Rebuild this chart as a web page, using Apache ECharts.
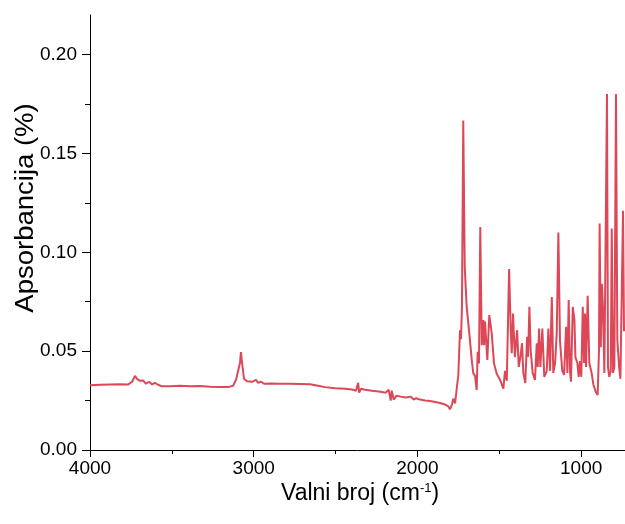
<!DOCTYPE html>
<html>
<head>
<meta charset="utf-8">
<script src="https://cdn.jsdelivr.net/npm/echarts@6/dist/echarts.min.js"></script>
<style>html,body{margin:0;padding:0;background:#fff}#c{width:625px;height:524px}</style>
</head>
<body>
<div id="c"></div>
<script>
// Wavenumbers (cm^-1) and absorbance values
const wavenumbers = [
4000,3939,3878,3817,3768,3743,3725,3713,3695,3676,3658,3640,3621,3603,3585,3560,3511,3450,3389,3328,3267,3206,3157,3126,3108,3096,3084,3078,3071,3059,3041,3010,2986,2974,2955,2937,2900,2839,2778,2717,2656,2607,2564,2503,2442,2399,2375,2362,2356,2344,2320,2277,2225,2194,2176,2163,2157,2145,2127,2102,2072,2041,2023,2008,1984,1953,1923,1892,1862,1831,1813,1801,1789,1781,1770,1756,1750,1740,1734,1728,1720,1711,1699,1683,1668,1659,1648,1638,1632,1624,1616,1607,1597,1593,1587,1573,1561,1546,1532,1516,1495,1475,1465,1454,1440,1430,1424,1416,1405,1391,1381,1371,1361,1353,1341,1330,1324,1316,1308,1296,1282,1271,1265,1257,1249,1237,1225,1210,1200,1190,1179,1170,1159,1149,1139,1129,1115,1104,1092,1084,1076,1068,1062,1051,1041,1035,1023,1015,1007,999,990,982,976,970,960,950,936,925,911,899,891,887,880,873,866,858,850,842,836,828,819,813,805,797,787,779,768,760,750,744,738
];
const absorbance = [
0.0328,0.0330,0.0331,0.0332,0.0331,0.0345,0.0375,0.0360,0.0350,0.0352,0.0335,0.0345,0.0332,0.0340,0.0330,0.0322,0.0322,0.0325,0.0322,0.0324,0.0320,0.0318,0.0318,0.0325,0.0355,0.0345,0.0440,0.0495,0.0440,0.0360,0.0348,0.0345,0.0355,0.0340,0.0345,0.0335,0.0336,0.0335,0.0335,0.0334,0.0333,0.0325,0.0318,0.0312,0.0310,0.0306,0.0300,0.0340,0.0290,0.0310,0.0305,0.0300,0.0295,0.0290,0.0305,0.0250,0.0300,0.0255,0.0275,0.0270,0.0265,0.0270,0.0255,0.0262,0.0255,0.0250,0.0248,0.0243,0.0238,0.0230,0.0222,0.0206,0.0230,0.0260,0.0236,0.0338,0.0379,0.0606,0.0560,0.0720,0.1667,0.0926,0.0724,0.0590,0.0455,0.0389,0.0375,0.0303,0.0497,0.0438,0.1128,0.0530,0.0657,0.0530,0.0650,0.0455,0.0682,0.0590,0.0438,0.0387,0.0354,0.0310,0.0400,0.0350,0.0915,0.0606,0.0490,0.0690,0.0470,0.0606,0.0420,0.0470,0.0540,0.0389,0.0338,0.0572,0.0470,0.0724,0.0500,0.0390,0.0354,0.0540,0.0420,0.0614,0.0420,0.0614,0.0370,0.0400,0.0614,0.0400,0.0774,0.0390,0.0440,0.0590,0.1100,0.0550,0.0400,0.0380,0.0623,0.0390,0.0758,0.0400,0.0345,0.0724,0.0660,0.0470,0.0440,0.0370,0.0450,0.0370,0.0724,0.0440,0.0690,0.0420,0.0780,0.0440,0.0390,0.0330,0.0295,0.0278,0.0500,0.1145,0.0520,0.0840,0.0710,0.0390,0.0400,0.1800,0.0420,0.0370,0.0400,0.1120,0.0390,0.0420,0.1800,0.0560,0.0420,0.0360,0.0350,0.1210,0.0600
];
const xTickValues = [4000, 3000, 2000, 1000];
const xMinorTickValues = [3500, 2500, 1500];
const yTickValues = [0, 0.05, 0.10, 0.15, 0.20];
const yMinorTickValues = [0.025, 0.075, 0.125, 0.175];
const xRange = [732, 4000];
const yRange = [0, 0.22];
const xTitle = 'Valni broj (cm{sup|-1})';
const yTitle = 'Apsorbancija (%)';

const FONT = '"Liberation Sans", Arial, sans-serif';
const chart = echarts.init(document.getElementById('c'), null, {renderer: 'canvas'});
const seriesData = wavenumbers.map((w, i) => [w, absorbance[i]]);
const gridBox = {left: 90, top: 15, bottom: 74, right: 0, containLabel: false};

chart.setOption({
  animation: false,
  backgroundColor: '#fff',
  grid: [Object.assign({}, gridBox), Object.assign({}, gridBox)],
  xAxis: [{
    gridIndex: 0, type: 'value', min: xRange[0], max: xRange[1], inverse: true,
    axisLine: {show: true, lineStyle: {color: '#000', width: 1}},
    axisTick: {show: true, length: 7, inside: false, customValues: xTickValues, lineStyle: {color: '#000', width: 1}},
    axisLabel: {color: '#000', fontSize: 19, fontFamily: FONT, margin: 9,
      customValues: xTickValues, formatter: v => String(v)},
    splitLine: {show: false}
  }, {
    gridIndex: 1, type: 'value', min: xRange[0], max: xRange[1], inverse: true,
    axisLine: {show: false},
    axisTick: {show: true, length: 4, customValues: xMinorTickValues, lineStyle: {color: '#000', width: 1}},
    axisLabel: {show: false},
    splitLine: {show: false}
  }],
  yAxis: [{
    gridIndex: 0, type: 'value', min: yRange[0], max: yRange[1],
    axisLine: {show: true, lineStyle: {color: '#000', width: 1}},
    axisTick: {show: true, length: 8, customValues: yTickValues, lineStyle: {color: '#000', width: 1}},
    axisLabel: {color: '#000', fontSize: 19, fontFamily: FONT, margin: 13,
      customValues: yTickValues, formatter: v => v.toFixed(2)},
    splitLine: {show: false}
  }, {
    gridIndex: 1, type: 'value', min: yRange[0], max: yRange[1], position: 'left',
    axisLine: {show: false},
    axisTick: {show: true, length: 5, customValues: yMinorTickValues, lineStyle: {color: '#000', width: 1}},
    axisLabel: {show: false},
    splitLine: {show: false}
  }],
  series: [{
    type: 'line', data: seriesData, xAxisIndex: 0, yAxisIndex: 0,
    showSymbol: false, symbol: 'none',
    lineStyle: {color: '#dc4857', width: 2},
    itemStyle: {color: '#dc4857'}
  }],
  graphic: [{
    type: 'text', left: 281, top: 482,
    style: {text: xTitle, fill: '#000', font: '23px ' + FONT,
      rich: {sup: {fontSize: 13, verticalAlign: 'top', fill: '#000', fontFamily: FONT, padding: [0, 0, 8, 0]}}}
  }, {
    type: 'text', x: 26, y: 208, rotation: Math.PI / 2, scaleX: 1.1,
    style: {text: yTitle, fill: '#000', font: '25px ' + FONT, align: 'center', verticalAlign: 'middle'}
  }]
});
</script>
</body>
</html>
